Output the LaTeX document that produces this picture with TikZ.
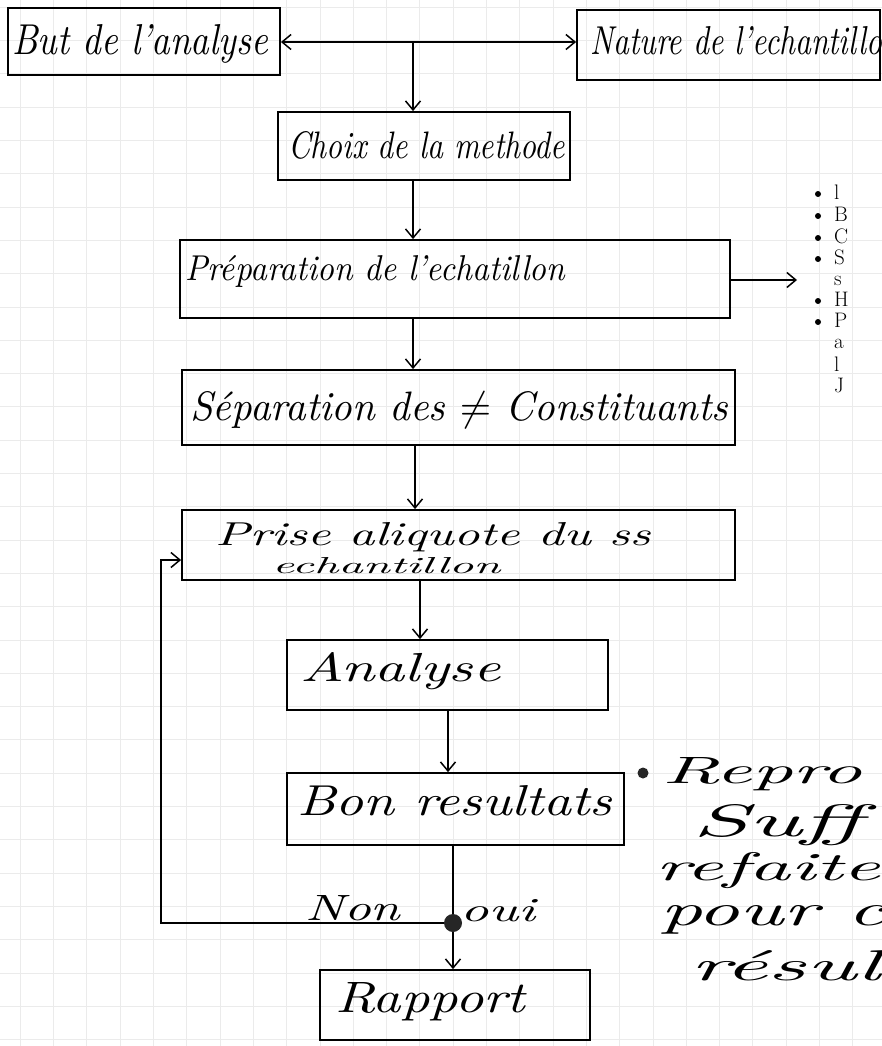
\documentclass[tikz,border=0pt]{standalone}
\usepackage{fontspec}
\usepackage{graphicx}
\usetikzlibrary{arrows.meta}
\newcommand{\hwtext}[3]{\resizebox{#1}{#2}{\itshape #3}}
\tikzset{hwtip/.tip={Straight Barb[length=9pt,width=15pt,line width=1.5pt]}}
\begin{document}
\begin{tikzpicture}[x=1pt,y=-1pt,
  box/.style={draw, line width=1.8pt, inner sep=0pt},
  lbl/.style={inner sep=0pt, anchor=base west},
  arr/.style={line width=1.5pt, -{hwtip}},
  plain/.style={line width=1.5pt},
  gridline/.style={gray!16, line width=0.4pt},
  bul/.style={circle, fill=black, inner sep=0pt, minimum size=#1}]
\useasboundingbox (0,0) rectangle (882,1046);
\fill[white] (0,0) rectangle (882,1046);
% graph paper
\foreach \i in {0,...,26} {\draw[gridline] (20+33.3*\i,0) -- (20+33.3*\i,1046);}
\foreach \i in {0,...,31} {\draw[gridline] (0,7+33.3*\i) -- (882,7+33.3*\i);}
% boxes
\node[box, minimum width=272pt, minimum height=67pt] (but) at (144,41.5) {};
\node[box, minimum width=303pt, minimum height=70pt] (nature) at (728.5,45) {};
\node[box, minimum width=292pt, minimum height=68pt] (choix) at (424,146) {};
\node[box, minimum width=550pt, minimum height=78pt] (prep) at (455,279) {};
\node[box, minimum width=553pt, minimum height=75pt] (sep) at (458.5,407.5) {};
\node[box, minimum width=553pt, minimum height=70pt] (prise) at (458.5,545) {};
\node[box, minimum width=321pt, minimum height=70pt] (analyse) at (447.5,675) {};
\node[box, minimum width=337pt, minimum height=72pt] (bon) at (455.5,809) {};
\node[box, minimum width=270pt, minimum height=70pt] (rapport) at (455,1005) {};
% texts
\node[lbl] (tbut) at (12,55) {\hwtext{256pt}{30pt}{But de l'analyse}};
\node[lbl] (tnat) at (590,55) {\hwtext{310pt}{28pt}{Nature de l'echantillon}};
\node[lbl] (tcho) at (288,158) {\hwtext{277pt}{27pt}{Choix de la methode}};
\node[lbl] (tpre) at (185,280) {\hwtext{380pt}{25pt}{Préparation de l'echatillon}};
\node[lbl] (tsep) at (190,420) {\hwtext{538pt}{29pt}{Séparation des $\neq$ Constituants}};
\node[lbl] (tpr1) at (215,545) {\hwtext{435pt}{23pt}{Prise aliquote du ss}};
\node[lbl] (tpr2) at (272,573) {\hwtext{228pt}{16pt}{echantillon}};
\node[lbl] (tana) at (300,681) {\hwtext{200pt}{29pt}{Analyse}};
\node[lbl] (tbon) at (297,815) {\hwtext{315pt}{30pt}{Bon resultats}};
\node[lbl] (trap) at (335,1012) {\hwtext{190pt}{30pt}{Rapport}};
\node[lbl] (tnon) at (305,920) {\hwtext{95pt}{25pt}{Non}};
\node[lbl] (toui) at (460,921) {\hwtext{75pt}{22pt}{oui}};
% decision dot
\node[bul=18pt, fill=black!85] (dot) at (453,923) {};
% connectors
\coordinate (j) at (413,42);
\coordinate (x2) at (415,0);
\coordinate (x3) at (420,0);
\coordinate (x4) at (448,0);
\coordinate (x5) at (453,0);
\draw[line width=1.5pt, {hwtip}-{hwtip}] (but.east |- j) -- (nature.west |- j);
\draw[arr] (j) -- (j |- choix.north);
\draw[arr] (choix.south -| j) -- (prep.north -| j);
\draw[arr] (prep.south -| j) -- (sep.north -| j);
\draw[arr] (sep.south -| x2) -- (prise.north -| x2);
\draw[arr] (prise.south -| x3) -- (analyse.north -| x3);
\draw[arr] (analyse.south -| x4) -- (bon.north -| x4);
\draw[plain] (bon.south -| x5) -- (dot.north);
\draw[arr] (dot.south) -- (rapport.north -| x5);
\coordinate (lp1) at (161,923);
\coordinate (lp2) at (161,560);
\draw[arr] (dot.west) -- (lp1) -- (lp2) -- (lp2 -| prise.west);
\coordinate (rt) at (797,280);
\draw[arr] (prep.east |- rt) -- (rt);
% list beside the preparation box (cut at the page edge)
\foreach \n/\yy/\t/\b in {l1/199/l/1, l2/221/B/1, l3/243/C/1, l4/264/S/1, l5/285/s/0, l6/306/H/1, l7/327/P/1, l8/348/a/0, l9/371/l/0, l10/392/J/0} {
  \ifnum\b=1 \node[bul=6pt] (b\n) at (818,\yy-5) {};\fi
  \node[lbl] (\n) at (834,\yy) {\fontsize{21}{21}\selectfont \t};
}
% note at the bottom right (cut at the page edge)
\node[bul=11pt, fill=black!85] (nb) at (643,773) {};
\node[lbl] (n1) at (662,783) {\hwtext{200pt}{26pt}{Repro}};
\node[lbl] (n2) at (692,836) {\hwtext{170pt}{32pt}{Suff}};
\node[lbl] (n3) at (655,880) {\hwtext{225pt}{28pt}{refaite}};
\node[lbl] (n4) at (660,925) {\hwtext{225pt}{20pt}{pour c}};
\node[lbl] (n5) at (690,980) {\hwtext{190pt}{30pt}{résul}};
\end{tikzpicture}
\end{document}
